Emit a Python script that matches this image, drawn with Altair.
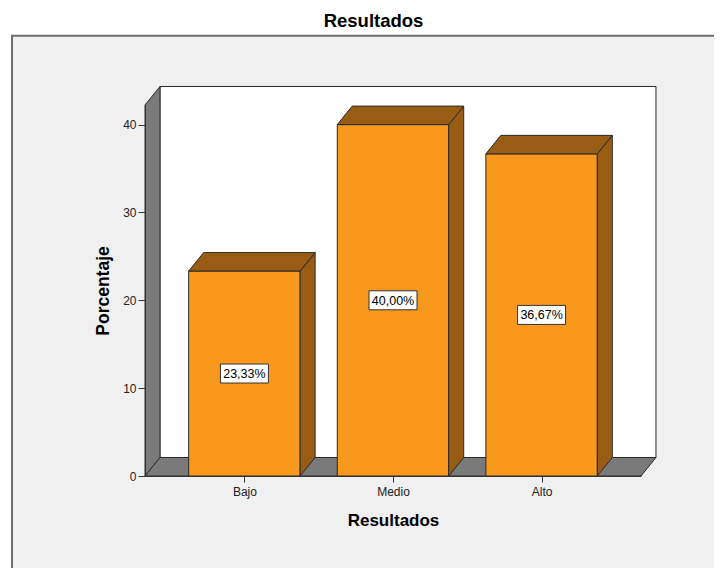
import json
import altair as alt
import pandas as pd

# ---- data ----
categories = ["Bajo", "Medio", "Alto"]
percentages = [23.33, 40.00, 36.67]
y_ticks = [0, 10, 20, 30, 40]
labels = [f"{v:.2f}".replace(".", ",") + "%" for v in percentages]

# ---- geometry of the pseudo 3D frame (data units) ----
X_MIN, X_MAX = -0.669, 2.669
Y_MAX = 42.23
HALF_W = 0.375
DX = 15 / 148.75      # depth offset along x
DY = 18.5 / 8.785     # depth offset along y

W, H = 496, 371
PAD = {"left": 137, "top": 97, "right": 706 - 137 - 496, "bottom": 560 - 97 - 371}

FONT = "Liberation Sans"
ORANGE = "#F8981D"
BROWN = "#985C14"
GRAY = "#7A7A7A"
EDGE = "#2A2A2A"

xs = alt.Scale(domain=[X_MIN, X_MAX], nice=False, zero=False)
ys = alt.Scale(domain=[0, Y_MAX], nice=False, zero=False)

idx = list(range(len(categories)))
bars = pd.DataFrame({
    "cat": categories,
    "pos": idx,
    "value": percentages,
    "half": [v / 2 for v in percentages],
    "label": labels,
    "x0": [i - HALF_W for i in idx],
    "x1": [i + HALF_W for i in idx],
})

side_rows, top_rows = [], []
for i, c, v in zip(idx, categories, percentages):
    side_rows.append({"cat": c, "x": i + HALF_W, "y0": 0, "y1": v})
    side_rows.append({"cat": c, "x": i + HALF_W + DX, "y0": DY, "y1": v + DY})
    top_rows.append({"cat": c, "y": v, "x0": i - HALF_W, "x1": i + HALF_W})
    top_rows.append({"cat": c, "y": v + DY, "x0": i - HALF_W + DX, "x1": i + HALF_W + DX})
side = pd.DataFrame(side_rows)
top = pd.DataFrame(top_rows)

wall = pd.DataFrame({"x": [X_MIN, X_MIN + DX], "y0": [0, DY], "y1": [Y_MAX, Y_MAX + DY]})
floor = pd.DataFrame({"y": [0, DY], "x0": [X_MIN, X_MIN + DX], "x1": [X_MAX, X_MAX + DX]})
back = pd.DataFrame({"x0": [X_MIN + DX], "x1": [X_MAX + DX], "y0": [DY], "y1": [Y_MAX + DY]})

label_expr = json.dumps(categories) + "[datum.value]"

x_axis = alt.Axis(values=idx, labelExpr=label_expr, title="Resultados",
                  titleFont=FONT, titleFontSize=17, titleFontWeight="bold", titleColor="#000",
                  titleX=W / 2, titleY=49, titleBaseline="alphabetic", titleAlign="center",
                  labelFont=FONT, labelFontSize=12, labelColor="#222", labelPadding=4,
                  tickSize=6, tickColor="#333", domainColor="#333", grid=False, zindex=1)
y_axis = alt.Axis(values=y_ticks, title="Porcentaje",
                  titleFont=FONT, titleFontSize=17.5, titleFontWeight="bold", titleColor="#000",
                  titleX=-36.5, titleY=H / 2, titleAngle=270, titleBaseline="alphabetic",
                  titleAlign="center",
                  labelFont=FONT, labelFontSize=12, labelColor="#222", labelPadding=2,
                  tickSize=7, tickColor="#333", domainColor="#333", grid=False, zindex=1)

panel = alt.Chart(pd.DataFrame({"k": [0]})).mark_rect(
    fill="#F0F0F0", stroke="#6E6E6E", strokeWidth=2
).encode(x=alt.value(12 - 145), x2=alt.value(700), y=alt.value(35.7 - 105), y2=alt.value(700))

back_wall = alt.Chart(back).mark_rect(fill="white", stroke=EDGE, strokeWidth=1).encode(
    x=alt.X("x0:Q", scale=xs, axis=x_axis), x2="x1:Q",
    y=alt.Y("y0:Q", scale=ys, axis=y_axis), y2="y1:Q")

left_wall = alt.Chart(wall).mark_area(fill=GRAY, stroke=EDGE, strokeWidth=1, opacity=1).encode(
    x=alt.X("x:Q", scale=xs), y=alt.Y("y0:Q", scale=ys, stack=None), y2="y1:Q")

floor_l = alt.Chart(floor).mark_area(orient="horizontal", fill=GRAY, stroke=EDGE,
                                     strokeWidth=1, opacity=1).encode(
    y=alt.Y("y:Q", scale=ys), x=alt.X("x0:Q", scale=xs, stack=None), x2="x1:Q")

front = alt.Chart(bars).mark_rect(fill=ORANGE, stroke=EDGE, strokeWidth=1).encode(
    x=alt.X("x0:Q", scale=xs), x2="x1:Q", y=alt.Y("value:Q", scale=ys), y2=alt.datum(0))

side_l = alt.Chart(side).mark_area(fill=BROWN, stroke=EDGE, strokeWidth=1, opacity=1).encode(
    x=alt.X("x:Q", scale=xs), y=alt.Y("y0:Q", scale=ys, stack=None), y2="y1:Q", detail="cat:N")

top_l = alt.Chart(top).mark_area(orient="horizontal", fill=BROWN, stroke=EDGE,
                                 strokeWidth=1, opacity=1).encode(
    y=alt.Y("y:Q", scale=ys), x=alt.X("x0:Q", scale=xs, stack=None), x2="x1:Q", detail="cat:N")

box = alt.Chart(bars).mark_point(
    shape="M-1,-0.396L1,-0.396L1,0.396L-1,0.396Z", size=2304, filled=True,
    fill="white", stroke="#333", strokeWidth=1, opacity=1
).encode(x=alt.X("pos:Q", scale=xs), y=alt.Y("half:Q", scale=ys))

txt = alt.Chart(bars).mark_text(font=FONT, fontSize=12.5, color="#000", baseline="middle",
                                align="center", dy=0.5).encode(
    x=alt.X("pos:Q", scale=xs), y=alt.Y("half:Q", scale=ys), text="label:N")

chart = alt.layer(panel, back_wall, left_wall, floor_l, front, side_l, top_l, box, txt).properties(
    width=W, height=H, autosize="none", padding=PAD,
    title=alt.Title(text="Resultados", font=FONT, fontSize=18.5, fontWeight="bold", color="#000",
                    anchor="middle", frame="group", offset=7, dy=18, baseline="alphabetic",
                    dx=-19.5),
).configure_view(stroke=None).configure(background="white")

chart.save("out.html", embed_options={"renderer": "svg", "actions": False})
